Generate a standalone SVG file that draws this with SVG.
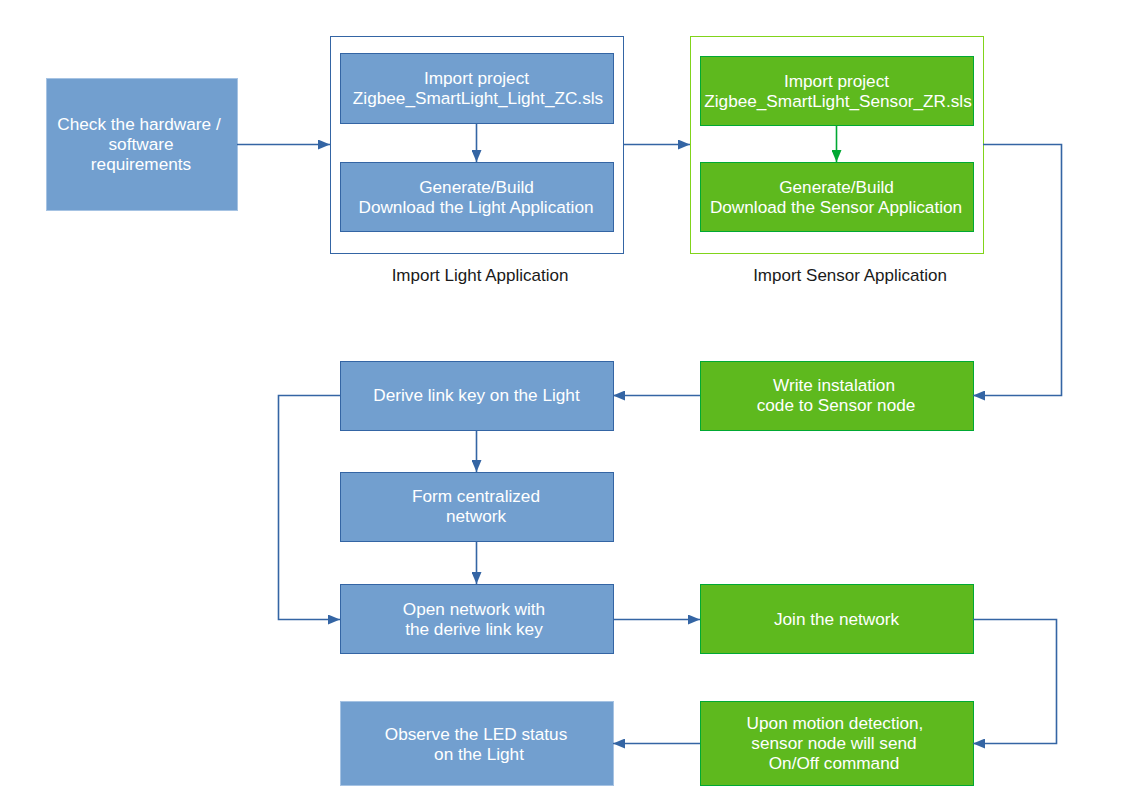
<svg xmlns="http://www.w3.org/2000/svg" width="1123" height="794" viewBox="0 0 1123 794">
<defs>
<marker id="ab" markerWidth="12" markerHeight="10" refX="12" refY="5" orient="auto" markerUnits="userSpaceOnUse"><path d="M0,0 L12,5 L0,10 Z" fill="#3465a4"/></marker>
<marker id="ag" markerWidth="12" markerHeight="10" refX="12" refY="5" orient="auto" markerUnits="userSpaceOnUse"><path d="M0,0 L12,5 L0,10 Z" fill="#00a933"/></marker>
</defs>
<style>
.b{fill:#729fcf;stroke:#3465a4;stroke-width:1}
.bl{fill:#729fcf;stroke:#a6c3e3;stroke-width:1}
.g{fill:#5eb91e;stroke:#00a933;stroke-width:1}
.t{font-family:"Liberation Sans",Arial,sans-serif;font-size:17.2px;fill:#ffffff;text-anchor:middle}
.l{font-family:"Liberation Sans",Arial,sans-serif;font-size:17px;fill:#1a1a1a;text-anchor:middle}
.c{fill:none;stroke:#3465a4;stroke-width:1.6}
.cg{fill:none;stroke:#00a933;stroke-width:1.6}
</style>
<rect width="1123" height="794" fill="#ffffff"/>
<g id="group-light">
<rect x="330.5" y="36.5" width="293" height="217" fill="#ffffff" stroke="#3465a4" stroke-width="1"/>
<text class="l" x="480" y="281">Import Light Application</text>
</g>
<g id="group-sensor">
<rect x="690.5" y="36.5" width="293" height="217" fill="#ffffff" stroke="#81d41a" stroke-width="1"/>
<text class="l" x="850" y="281">Import Sensor Application</text>
</g>
<g id="n-check">
<rect class="bl" x="46.5" y="78.5" width="191" height="132"/>
<text class="t" x="139" y="130">Check the hardware /</text>
<text class="t" x="141" y="150">software</text>
<text class="t" x="141" y="170">requirements</text>
</g>
<g id="n-import-light">
<rect class="b" x="340.5" y="53.5" width="273" height="70"/>
<text class="t" x="476.5" y="84">Import project</text>
<text class="t" x="478" y="104">Zigbee_SmartLight_Light_ZC.sls</text>
</g>
<g id="n-build-light">
<rect class="b" x="340.5" y="162.5" width="273" height="69"/>
<text class="t" x="476.5" y="193">Generate/Build</text>
<text class="t" x="476" y="213">Download the Light Application</text>
</g>
<g id="n-import-sensor">
<rect class="g" x="700.5" y="56.5" width="273" height="69"/>
<text class="t" x="836.5" y="87">Import project</text>
<text class="t" x="838" y="107">Zigbee_SmartLight_Sensor_ZR.sls</text>
</g>
<g id="n-build-sensor">
<rect class="g" x="700.5" y="162.5" width="273" height="69"/>
<text class="t" x="836.5" y="193">Generate/Build</text>
<text class="t" x="836" y="213">Download the Sensor Application</text>
</g>
<g id="n-write">
<rect class="g" x="700.5" y="361.5" width="273" height="69"/>
<text class="t" x="834" y="391">Write instalation</text>
<text class="t" x="836" y="411">code to Sensor node</text>
</g>
<g id="n-derive">
<rect class="b" x="340.5" y="361.5" width="273" height="69"/>
<text class="t" x="476.5" y="401">Derive link key on the Light</text>
</g>
<g id="n-form">
<rect class="b" x="340.5" y="472.5" width="273" height="69"/>
<text class="t" x="476" y="502">Form centralized</text>
<text class="t" x="476" y="522">network</text>
</g>
<g id="n-open">
<rect class="b" x="340.5" y="584.5" width="273" height="69"/>
<text class="t" x="474" y="615">Open network with</text>
<text class="t" x="474" y="635">the derive link key</text>
</g>
<g id="n-join">
<rect class="g" x="700.5" y="584.5" width="273" height="69"/>
<text class="t" x="836.5" y="625">Join the network</text>
</g>
<g id="n-upon">
<rect class="g" x="700.5" y="701.5" width="273" height="84"/>
<text class="t" x="835" y="729">Upon motion detection,</text>
<text class="t" x="834" y="749">sensor node will send</text>
<text class="t" x="834" y="769">On/Off command</text>
</g>
<g id="n-observe">
<rect class="bl" x="340.5" y="701.5" width="273" height="84"/>
<text class="t" x="476" y="740">Observe the LED status</text>
<text class="t" x="479" y="760">on the Light</text>
</g>
<g id="connectors">
<path class="c" d="M237,144.5 H330" marker-end="url(#ab)"/>
<path class="c" d="M476.5,123 V162" marker-end="url(#ab)"/>
<path class="c" d="M623,144.5 H690" marker-end="url(#ab)"/>
<path class="cg" d="M836.5,125 V162" marker-end="url(#ag)"/>
<path class="c" d="M983,144.5 H1061.5 V395.5 H973" marker-end="url(#ab)"/>
<path class="c" d="M700,395.5 H613" marker-end="url(#ab)"/>
<path class="c" d="M476.5,430 V472" marker-end="url(#ab)"/>
<path class="c" d="M476.5,541 V584" marker-end="url(#ab)"/>
<path class="c" d="M340,395.5 H278.5 V619.5 H340" marker-end="url(#ab)"/>
<path class="c" d="M613,619.5 H700" marker-end="url(#ab)"/>
<path class="c" d="M973,619.5 H1056.5 V743.5 H973" marker-end="url(#ab)"/>
<path class="c" d="M700,743.5 H613" marker-end="url(#ab)"/>
</g>
</svg>
